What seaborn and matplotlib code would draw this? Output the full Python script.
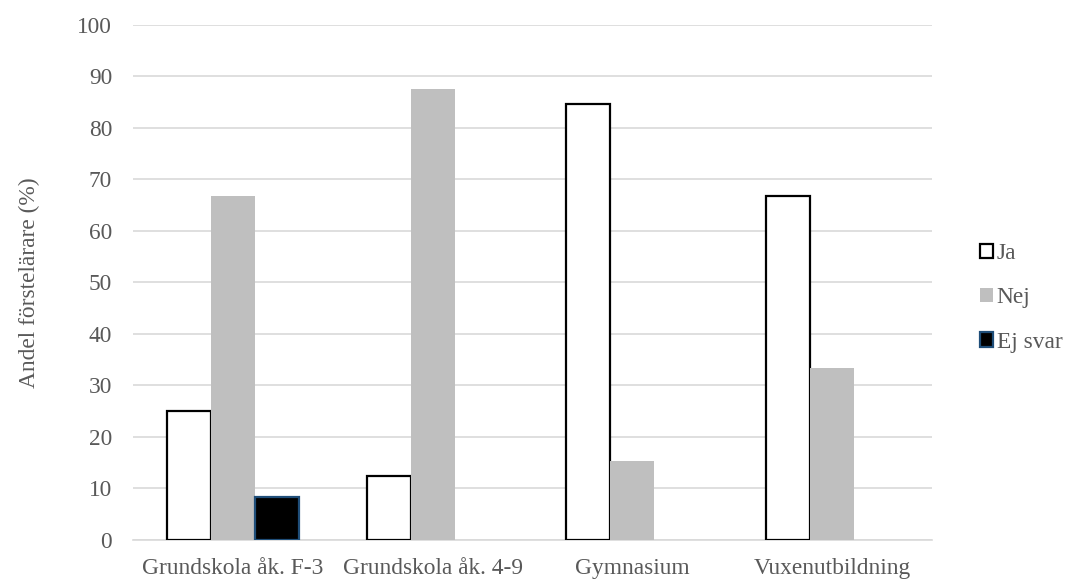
import matplotlib
matplotlib.use("Agg")
import matplotlib.pyplot as plt
import seaborn as sns
import pandas as pd
from matplotlib.patches import Patch

categories = ["Grundskola åk. F-3", "Grundskola åk. 4-9", "Gymnasium", "Vuxenutbildning"]
series = ["Ja", "Nej", "Ej svar"]
ja = [25.0, 12.5, 84.6, 66.7]
nej = [66.7, 87.5, 15.4, 33.3]
ej_svar = [8.3, 0.0, 0.0, 0.0]
yticks = [0, 10, 20, 30, 40, 50, 60, 70, 80, 90, 100]

rows = []
for name, vals in zip(series, [ja, nej, ej_svar]):
    for c, v in zip(categories, vals):
        rows.append({"Kategori": c, "Svar": name, "Andel": v})
df = pd.DataFrame(rows)

sns.set_theme(style="white")
plt.rcParams["font.family"] = ["Liberation Serif", "DejaVu Serif"]
txt = "#595959"
fs = 16.8

fig = plt.figure(figsize=(10.67, 5.8), dpi=100)
ax = fig.add_axes([0.1247, 0.069, 0.7488, 0.888])

face = {"Ja": "#FFFFFF", "Nej": "#BFBFBF", "Ej svar": "#000000"}
edge = {"Ja": "#000000", "Nej": "#BFBFBF", "Ej svar": "#1F4E79"}
lw = {"Ja": 1.6, "Nej": 0.0, "Ej svar": 1.6}

sns.barplot(data=df, x="Kategori", y="Andel", hue="Svar", order=categories,
            hue_order=series, palette=face, width=0.66, ax=ax, legend=False,
            saturation=1, zorder=3)

for cont, name in zip(ax.containers, series):
    for bar in cont:
        if bar.get_height() <= 0:
            bar.set_visible(False)
            continue
        bar.set_edgecolor(edge[name])
        bar.set_linewidth(lw[name])

ax.set_ylim(0, 100)
ax.set_xlim(-0.5, len(categories) - 0.5)
ax.set_yticks(yticks)
ax.yaxis.grid(True, color="#D9D9D9", linewidth=1.2, zorder=0)
ax.set_axisbelow(True)
for s in ["top", "right", "left"]:
    ax.spines[s].set_visible(False)
ax.spines["bottom"].set_color("#D9D9D9")
ax.spines["bottom"].set_linewidth(1.2)
ax.tick_params(axis="both", length=0, labelsize=fs, colors=txt)
ax.tick_params(axis="y", pad=15)
ax.tick_params(axis="x", pad=13)
ax.set_xlabel("")
ax.set_ylabel("Andel förstelärare (%)", fontsize=fs, color=txt, labelpad=27)

handles = [Patch(facecolor=face[s], edgecolor=edge[s], linewidth=1.6 if s != "Nej" else 0) for s in series]
leg = ax.legend(handles, series, loc="center left", bbox_to_anchor=(1.034, 0.47),
                frameon=False, fontsize=fs, handlelength=0.55, handleheight=0.55,
                handletextpad=0.15, labelspacing=1.0, labelcolor=txt)

fig.savefig("out.png", dpi=100)
